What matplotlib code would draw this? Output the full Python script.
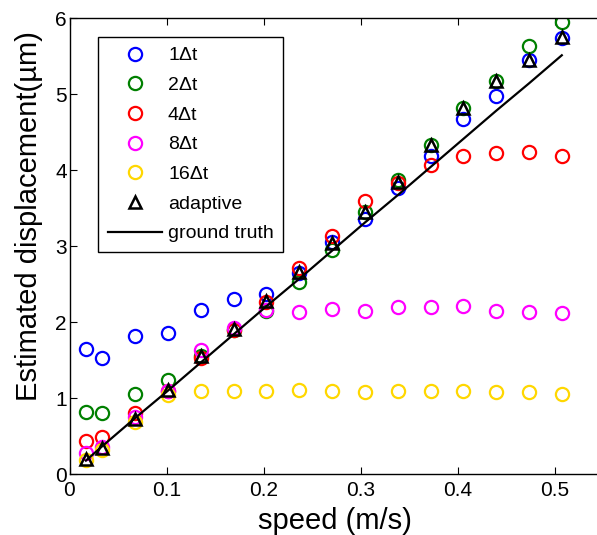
import matplotlib
matplotlib.use("Agg")
import matplotlib.pyplot as plt
import numpy as np

plt.rcParams['font.family'] = ['Liberation Sans', 'DejaVu Sans']

# speed (m/s)
speed = [0.0169, 0.0338, 0.0676, 0.1014, 0.1352, 0.169, 0.2028, 0.2366,
         0.2704, 0.3042, 0.338, 0.3718, 0.4056, 0.4394, 0.4732, 0.507]

# estimated displacement (um) for each frame interval
dt1 = [1.65, 1.53, 1.82, 1.86, 2.16, 2.30, 2.37, 2.65,
       3.06, 3.36, 3.76, 4.18, 4.67, 4.97, 5.45, 5.74]
dt2 = [0.82, 0.80, 1.06, 1.24, 1.55, 1.90, 2.15, 2.53,
       2.95, 3.45, 3.87, 4.33, 4.81, 5.17, 5.63, 5.95]
dt4 = [0.44, 0.49, 0.81, 1.09, 1.53, 1.90, 2.27, 2.71,
       3.13, 3.59, 3.83, 4.07, 4.18, 4.23, 4.24, 4.19]
dt8 = [0.28, 0.36, 0.76, 1.09, 1.64, 1.92, 2.16, 2.13,
       2.17, 2.15, 2.20, 2.20, 2.21, 2.15, 2.13, 2.12]
dt16 = [0.19, 0.32, 0.69, 1.04, 1.10, 1.10, 1.10, 1.11,
        1.10, 1.08, 1.10, 1.10, 1.10, 1.08, 1.08, 1.06]
adaptive = [0.20, 0.35, 0.73, 1.11, 1.56, 1.91, 2.28, 2.66,
            3.04, 3.45, 3.85, 4.33, 4.81, 5.17, 5.45, 5.75]
truth = [0.18, 0.37, 0.74, 1.10, 1.47, 1.84, 2.21, 2.57,
         2.94, 3.31, 3.67, 4.04, 4.41, 4.78, 5.14, 5.51]

labels = ['1\u0394t', '2\u0394t', '4\u0394t', '8\u0394t', '16\u0394t']
colors = ['#0000ff', '#008000', '#ff0000', '#ff00ff', '#ffd700']

W, H = 597, 535
fig = plt.figure(figsize=(W / 100, H / 100), dpi=100)

# axes runs past the right edge of the picture (cropped like the original)
x0, y0, y6 = 69.5, 474.3, 18.0
px_per_unit = 971.0
axw = 0.6 * px_per_unit
axh = y0 - y6
ax = fig.add_axes([x0 / W, (H - y0) / H, axw / W, axh / H])

for vals, lab, col in zip([dt1, dt2, dt4, dt8, dt16], labels, colors):
    ax.plot(speed, vals, 'o', mfc='none', mec=col, ms=9.5, mew=1.6, label=lab)
ax.plot(speed, adaptive, '^', mfc='none', mec='k', ms=8.5, mew=1.8, label='adaptive')
ax.plot(speed, truth, '-', color='k', lw=1.6, label='ground truth')

ax.set_xlim(0, 0.6)
ax.set_ylim(0, 6)
ax.set_xticks([0, 0.1, 0.2, 0.3, 0.4, 0.5])
ax.set_xticklabels(['0', '0.1', '0.2', '0.3', '0.4', '0.5'])
ax.set_yticks([0, 1, 2, 3, 4, 5, 6])
ax.tick_params(direction='in', top=True, right=True, length=5, width=0.8,
               labelsize=15)
ax.tick_params(axis='x', pad=5)
ax.tick_params(axis='y', pad=2)
for s in ax.spines.values():
    s.set_linewidth(1.0)

ax.set_xlabel('speed (m/s)', fontsize=21, va='baseline')
ax.set_ylabel('Estimated displacement(\u00b5m)', fontsize=21)
ax.xaxis.set_label_coords((335 - x0) / axw, -(529 - y0) / axh)
ax.yaxis.set_label_coords(-(x0 - 43) / axw, (y0 - 216) / axh)

leg = ax.legend(loc='upper left', bbox_to_anchor=(98 / W, 1 - 37 / H),
                bbox_transform=fig.transFigure, borderaxespad=0,
                fontsize=14, numpoints=1, handlelength=2.8,
                handletextpad=0.3, labelspacing=0.62, borderpad=0.5,
                fancybox=False, framealpha=1)
leg.get_frame().set_edgecolor('k')
leg.get_frame().set_linewidth(1.0)

fig.savefig('out.png', dpi=100)
